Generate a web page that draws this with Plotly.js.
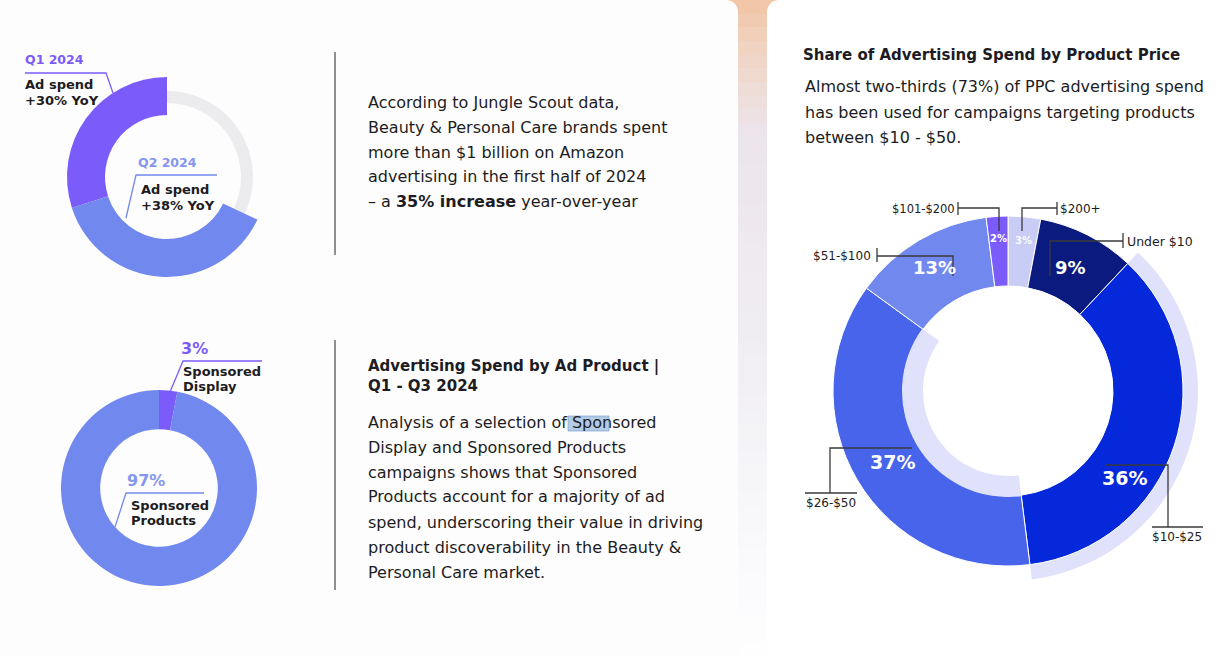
<!DOCTYPE html>
<html><head><meta charset="utf-8">
<script src="https://cdn.plot.ly/plotly-3.0.1.min.js"></script>
<style>html,body{margin:0;padding:0;background:#fff;overflow:hidden}#chart{width:1226px;height:656px}</style>
</head><body><div id="chart"></div>
<script>
// ---------- DATA ----------
const quarters = ['Q1 2024', 'Q2 2024'];
const adSpendYoY = [30, 38];                       // % YoY growth
const adProducts = ['Sponsored Display', 'Sponsored Products'];
const adProductShare = [3, 97];                    // % of ad spend
const priceBands = ['$200+', 'Under $10', '$10-$25', '$26-$50', '$51-$100', '$101-$200'];
const priceShare = [3, 9, 36, 37, 13, 2];          // % of ad spend

// text blocks
const introLines = ['According to Jungle Scout data,', 'Beauty & Personal Care brands spent',
  'more than $1 billion on Amazon', 'advertising in the first half of 2024',
  '– a <span style="font-weight:bold">35% increase</span> year-over-year'];
const adProdTitle = ['Advertising Spend by Ad Product |', 'Q1 - Q3 2024'];
const adProdLines = ['Analysis of a selection of Sponsored', 'Display and Sponsored Products',
  'campaigns shows that Sponsored', 'Products account for a majority of ad',
  'spend, underscoring their value in driving', 'product discoverability in the Beauty &',
  'Personal Care market.'];
const priceTitle = 'Share of Advertising Spend by Product Price';
const priceLines = ['Almost two-thirds (73%) of PPC advertising spend',
  'has been used for campaigns targeting products', 'between $10 - $50.'];

// ---------- STYLE ----------
const W = 1226, H = 656;
const FONT = 'DejaVu Sans';
const INK = '#1c1c22';
const PURPLE = '#7b5cfa', PERI = '#7189ee', PERI_TXT = '#8596f0';
const priceColors = ['#c9cdf6', '#0a1a7e', '#0529da', '#4764eb', '#7189ee', '#7b5cfa'];
const BAND = '#dfe2fa';
const NONE = 'rgba(0,0,0,0)';

const X = px => px / W, Y = py => 1 - py / H;
const dom = (cx, cy, r) => ({x: [X(cx - r), X(cx + r)], y: [Y(cy + r), Y(cy - r)]});
const only = (n, i, c) => Array.from({length: n}, (_, k) => k === i ? c : NONE);

const traces = [];
const base = {type: 'pie', sort: false, textinfo: 'none', hoverinfo: 'skip', showlegend: false};
// ---- top-left donut : Q1 / Q2 ad spend growth ----
const track = 100 - adSpendYoY.reduce((a, b) => a + b, 0);
const topVals = [track, ...adSpendYoY];
const topLabels = ['rest', ...quarters];
traces.push({...base, values: topVals, labels: topLabels, direction: 'counterclockwise', rotation: 0,
  domain: dom(167, 177, 86), hole: 74 / 86, marker: {colors: ['#ececee', NONE, NONE], line: {width: 0}}});
traces.push({...base, values: topVals, labels: topLabels, direction: 'counterclockwise', rotation: 0,
  domain: dom(167, 177, 100), hole: 0.62, marker: {colors: [NONE, PURPLE, PERI], line: {width: 0}}});
// ---- bottom-left donut : ad product share ----
traces.push({...base, values: adProductShare, labels: adProducts, direction: 'clockwise', rotation: 0,
  domain: dom(159, 488, 98), hole: 0.6, marker: {colors: [PURPLE, PERI], line: {width: 0}}});
// ---- right donut : share by product price ----
const n = priceShare.length, i1025 = 2, i2650 = 3;
const CX = 1008, CY = 391;
traces.push({...base, values: priceShare, labels: priceBands, direction: 'clockwise', rotation: 0,
  domain: dom(CX, CY, 190), hole: 168 / 190, marker: {colors: only(n, i1025, BAND), line: {width: 0}}});
traces.push({...base, values: priceShare, labels: priceBands, direction: 'clockwise', rotation: 0,
  domain: dom(CX, CY, 175), hole: 105 / 175,
  marker: {colors: priceColors, line: {color: '#ffffff', width: 1}}});
traces.push({...base, values: priceShare, labels: priceBands, direction: 'clockwise', rotation: 0,
  domain: dom(CX, CY, 106), hole: 85 / 106, marker: {colors: only(n, i2650, BAND), line: {width: 0}}});

// ---------- SHAPES ----------
const shapes = [];
// background gap strip (vertical gradient)
const stops = [[0, [242, 197, 165]], [60, [240, 214, 200]], [130, [236, 228, 234]], [350, [240, 238, 243]], [560, [250, 250, 252]], [656, [254, 254, 255]]];
const colAt = y => {
  for (let k = 0; k < stops.length - 1; k++) {
    const [y0, c0] = stops[k], [y1, c1] = stops[k + 1];
    if (y <= y1) { const t = (y - y0) / (y1 - y0); return 'rgb(' + c0.map((v, j) => Math.round(v + (c1[j] - v) * t)).join(',') + ')'; }
  }
  return 'rgb(255,255,255)';
};
const SEG = 48;
for (let k = 0; k < SEG; k++) {
  const y0 = k * H / SEG, y1 = (k + 1) * H / SEG + 0.5;
  shapes.push({type: 'rect', layer: 'below', xref: 'paper', yref: 'paper', x0: X(720), x1: X(785), y0: Y(y0), y1: Y(y1),
    fillcolor: colAt((y0 + y1) / 2), line: {width: 0}});
}
const pth = pts => 'M' + pts.map(p => X(p[0]) + ',' + Y(p[1])).join(' L');
// cards with rounded top corners
const R = 12;
let arcL = [], arcR = [];
for (let a = 0; a <= 90; a += 10) {
  const t = a * Math.PI / 180;
  arcL.push([738 - R + R * Math.sin(t), R - R * Math.cos(t)]);
  arcR.push([767 + R - R * Math.sin(t), R - R * Math.cos(t)]);
}
shapes.push({type: 'path', layer: 'below', xref: 'paper', yref: 'paper', fillcolor: '#fefdfd', line: {width: 0},
  path: pth([[0, 0], ...arcL, [738, H], [0, H]]) + ' Z'});
shapes.push({type: 'path', layer: 'below', xref: 'paper', yref: 'paper', fillcolor: '#ffffff', line: {width: 0},
  path: pth([[W, 0], ...arcR, [767, H], [W, H]]) + ' Z'});
// text selection highlight
shapes.push({type: 'rect', layer: 'below', xref: 'paper', yref: 'paper', x0: X(568), x1: X(609), y0: Y(431), y1: Y(416),
  fillcolor: 'rgba(130,170,215,0.6)', line: {color: 'rgba(110,150,200,0.6)', width: 1}});
// dividers
const line = (pts, color, w) => shapes.push({type: 'path', xref: 'paper', yref: 'paper', path: pth(pts), line: {color, width: w}});
line([[335, 52], [335, 255]], '#222', 1);
line([[335, 340], [335, 590]], '#222', 1);
// left leaders
line([[25, 73], [106, 73], [113, 93]], PURPLE, 1.3);
line([[217, 175], [136, 175], [126, 218]], PERI, 1.3);
line([[262, 361], [183, 361], [170, 392]], PURPLE, 1.3);
line([[204, 493], [126, 493], [115, 527]], PERI, 1.3);
// right brackets
const GR = '#3a3a3a';
line([[958, 202], [958, 215]], GR, 1.3); line([[958, 208], [999, 208], [999, 231]], GR, 1.3);
line([[1057, 202], [1057, 215]], GR, 1.3); line([[1057, 208], [1022, 208], [1022, 231]], GR, 1.3);
line([[1123, 233], [1123, 248]], GR, 1.3); line([[1123, 241], [1050, 241], [1050, 276]], GR, 1.3);
line([[877, 248], [877, 262]], GR, 1.3); line([[877, 256], [953, 256], [953, 276]], GR, 1.3);
line([[912, 448], [830, 448], [830, 493]], GR, 1.3); line([[805, 493], [857, 493]], GR, 1.3);
line([[1105, 465], [1168, 465], [1168, 527]], GR, 1.3); line([[1152, 527], [1203, 527]], GR, 1.3);

// ---------- ANNOTATIONS ----------
const ann = [];
const T = (x, y, text, size, color, weight, xa) => ann.push({xref: 'paper', yref: 'paper', x: X(x), y: Y(y), text,
  showarrow: false, xanchor: xa || 'left', yanchor: 'middle', borderpad: 0, borderwidth: 0,
  font: {family: FONT, size, color, weight: weight || 'normal'}});

introLines.forEach((s, k) => T(368, 102 + k * 25, s, 16, INK));
adProdTitle.forEach((s, k) => T(368, 366 + k * 20, s, 15, INK, 'bold'));
adProdLines.forEach((s, k) => T(368, 422 + k * 25, s, 16, INK));
T(803, 55, priceTitle, 15, INK, 'bold');
priceLines.forEach((s, k) => T(805, 87 + k * 25.5, s, 16, INK));

// left donut labels
T(25, 60, quarters[0], 12.5, PURPLE, 'bold');
T(25, 84, 'Ad spend', 13, INK, 'bold'); T(25, 100, '+' + adSpendYoY[0] + '% YoY', 13, INK, 'bold');
T(138, 162, quarters[1], 12.5, PERI_TXT, 'bold');
T(141, 190, 'Ad spend', 13, INK, 'bold'); T(141, 205, '+' + adSpendYoY[1] + '% YoY', 13, INK, 'bold');
T(181, 348, adProductShare[0] + '%', 16, PURPLE, 'bold');
T(183, 372, 'Sponsored', 13, INK, 'bold'); T(183, 386, 'Display', 13, INK, 'bold');
T(127, 480, adProductShare[1] + '%', 16, PERI_TXT, 'bold');
T(131, 505, 'Sponsored', 13, INK, 'bold'); T(131, 520, 'Products', 13, INK, 'bold');

// right donut labels
T(955, 209, priceBands[5], 11.5, INK, 'normal', 'right');
T(1060, 209, priceBands[0], 12, INK);
T(1127, 241, priceBands[1], 12.5, INK);
T(871, 256, priceBands[4], 12, INK, 'normal', 'right');
T(806, 503, priceBands[3], 12, INK);
T(1152, 537, priceBands[2], 12, INK);
T(998, 238, priceShare[5] + '%', 10, '#ffffff', 'bold', 'center');
T(1023, 240, priceShare[0] + '%', 10, 'rgba(255,255,255,0.9)', 'bold', 'center');
T(934, 267, priceShare[4] + '%', 18, '#ffffff', 'bold', 'center');
T(1070, 267, priceShare[1] + '%', 18, '#ffffff', 'bold', 'center');
T(892, 462, priceShare[3] + '%', 19, '#ffffff', 'bold', 'center');
T(1124, 478, priceShare[2] + '%', 19, '#ffffff', 'bold', 'center');

Plotly.newPlot('chart', traces, {
  width: W, height: H, margin: {l: 0, r: 0, t: 0, b: 0}, paper_bgcolor: '#ffffff', plot_bgcolor: '#ffffff',
  showlegend: false, shapes, annotations: ann, font: {family: FONT}
}, {staticPlot: true, displayModeBar: false});
</script></body></html>
